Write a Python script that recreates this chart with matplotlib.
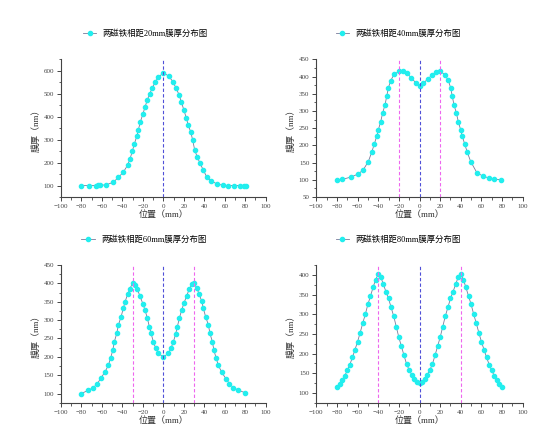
import matplotlib
matplotlib.use('Agg')
import matplotlib.pyplot as plt
from matplotlib.ticker import MultipleLocator

plt.rcParams['font.family'] = ['Liberation Serif', 'Noto Sans CJK SC']

# 20mm
x20 = [-80, -72.5, -66, -64, -62, -56, -49, -44, -39, -35, -32.5, -30.3, -28.3, -26, -24.4,
       -22.5, -20.1, -17.9, -15.6, -13.3, -10.7, -8.1, -4.9, 0, 5.2, 9.2, 12.5, 15.3, 17.6,
       20.2, 22.3, 24.4, 26.8, 28.7, 30.7, 33.2, 35.9, 39.1, 42.4, 46.6, 52.8, 58.6, 63.5,
       69, 75, 79, 80.5]
y20 = [100, 100, 100, 101, 101, 103, 114, 135, 159, 188, 217, 250, 282, 314, 343,
       377, 410, 442, 474, 500, 526, 550, 572, 591, 577, 553, 524, 496, 464,
       427, 396, 362, 333, 297, 253, 224, 196, 167, 137, 120, 106, 101, 100,
       100, 100, 100, 100]

# 40mm
x40 = [-80, -75, -66.4, -59.3, -54.5, -49.6, -46.3, -43.8, -41.5, -39.9, -37.6, -35.7, -33.4,
       -31.8, -30.2, -27.9, -24.7, -19.9, -15.7, -12.4, -8.2, -3.4, 0, 3.4, 8.2, 12.4, 16,
       20, 24.7, 27.9, 30.2, 31.8, 33.4, 35.7, 37.6, 39.9, 41.5, 43.8, 46.3, 49.6, 55.7,
       62, 67.7, 72.5, 79]
y40 = [100, 101, 108, 117, 129, 153, 180, 204, 226, 245, 269, 294, 318,
       342, 367, 388, 406, 415, 417, 410, 397, 381, 372, 380, 393, 405, 414,
       417, 404, 389, 367, 342, 318, 294, 269, 245, 226, 204, 180, 153, 120,
       110, 105, 102, 100]

# 60mm
x60 = [-80, -73.3, -68.4, -64.5, -61.2, -57, -53.7, -51.4, -49.4, -47.9, -45.5, -44, -41.3,
       -39.1, -37.4, -34.8, -32.5, -30, -27.5, -25.4, -22.8, -20.1, -17.9, -15.6, -13.7, -12,
       -9.8, -7.4, -4.9, 0, 4.9, 7.4, 9.8, 12, 13.7, 15.6, 17.9, 20.1, 22.8, 25.4, 28, 30,
       32.5, 34.8, 37.4, 39.1, 41.3, 44, 45.5, 47.9, 49.4, 51.4, 53.7, 57, 61.2, 64.5, 68.4,
       73.3, 80]
y60 = [100, 109, 116, 127, 141, 159, 177, 198, 218, 241, 264, 286, 309,
       332, 350, 371, 386, 402, 395, 384, 365, 345, 327, 305, 282, 264,
       241, 223, 209, 200, 209, 223, 241, 262, 282, 305, 327, 346, 366, 385, 397, 402,
       388, 372, 352, 332, 309, 287, 264, 241, 218, 198, 177, 158, 140, 127, 116,
       109, 102]

# 80mm
x80 = [-80, -77.5, -75, -72.5, -70, -67.5, -65, -62.5, -60, -57.5, -55, -52.5, -50, -47.5,
       -45, -42.5, -40, -37.5, -35, -32.5, -30, -27.5, -25, -22.5, -20, -17.5, -15, -12.5,
       -10, -7.5, -5, -2.5, 0, 2.5, 5, 7.5, 10, 12.5, 15, 17.5, 20, 22.5, 25, 27.5, 30,
       32.5, 35, 37.5, 40, 42.5, 45, 47.5, 50, 52.5, 55, 57.5, 60, 62.5, 65, 67.5, 70,
       72.5, 75, 77.5, 80]
y80 = [114, 122, 132, 143, 157, 172, 190, 210, 230, 253, 277, 300, 325, 346,
       368, 388, 401, 394, 376, 357, 340, 317, 295, 268, 241, 218, 195, 173,
       158, 146, 135, 128, 125, 128, 135, 146, 158, 173, 195, 218, 241, 268, 295, 317, 340,
       357, 376, 394, 401, 388, 368, 346, 325, 300, 277, 253, 230, 210, 190, 172, 157,
       143, 132, 122, 114]

gaps = ['20', '40', '60', '80']
xs = [x20, x40, x60, x80]
ys = [y20, y40, y60, y80]
peaks = [[], [-20, 20], [-30, 30], [-40, 40]]
ylims = [(50, 650), (50, 450), (75, 450), (75, 425)]
ysteps = [100, 50, 50, 50]

W, H = 554, 446
boxes = [(61, 59.3, 265.7, 197), (316.3, 59.3, 522.7, 197),
         (61, 265, 265.7, 402.7), (316.3, 265, 522.7, 402.7)]
leg_pos = [(0.413, 1.19), (0.398, 1.19), (0.405, 1.185), (0.398, 1.185)]

fig = plt.figure(figsize=(W / 100, H / 100), dpi=100)

for i in range(4):
    l, t, r, b = boxes[i]
    ax = fig.add_axes([l / W, 1 - b / H, (r - l) / W, (b - t) / H])
    ax.plot(xs[i], ys[i], '-o', color='#7a7a9a', lw=0.6, ms=3.0,
            mfc='#22eeee', mec='#22eeee', label='两磁铁相距%smm膜厚分布图' % gaps[i])
    ax.axvline(0, color='#5050d8', ls=(0, (3, 2)), lw=0.8)
    for p in peaks[i]:
        ax.axvline(p, color='#ee66ee', ls=(0, (3, 2)), lw=0.8)

    ax.set_xlim(-100, 100)
    ax.set_ylim(*ylims[i])
    ax.xaxis.set_major_locator(MultipleLocator(20))
    ax.xaxis.set_minor_locator(MultipleLocator(10))
    ax.yaxis.set_major_locator(MultipleLocator(ysteps[i]))
    ax.yaxis.set_minor_locator(MultipleLocator(ysteps[i] / 2))
    for s in ['top', 'right']:
        ax.spines[s].set_visible(False)
    for s in ['left', 'bottom']:
        ax.spines[s].set_color('#444444')
        ax.spines[s].set_linewidth(0.8)
    ax.tick_params(which='major', direction='out', length=3, width=0.7,
                   labelsize=5, colors='#444444', pad=2)
    ax.tick_params(which='minor', direction='out', length=1.8, width=0.6, colors='#444444')
    ax.set_xlabel('位置（mm）', fontsize=6.5, labelpad=1, color='#333333')
    ax.set_ylabel('膜厚（nm）', fontsize=6.5, labelpad=2, color='#333333')
    ax.legend(loc='center', bbox_to_anchor=leg_pos[i], frameon=False, fontsize=6,
              handlelength=1.6, handletextpad=0.8)

fig.savefig('out.png', dpi=100, facecolor='white')
